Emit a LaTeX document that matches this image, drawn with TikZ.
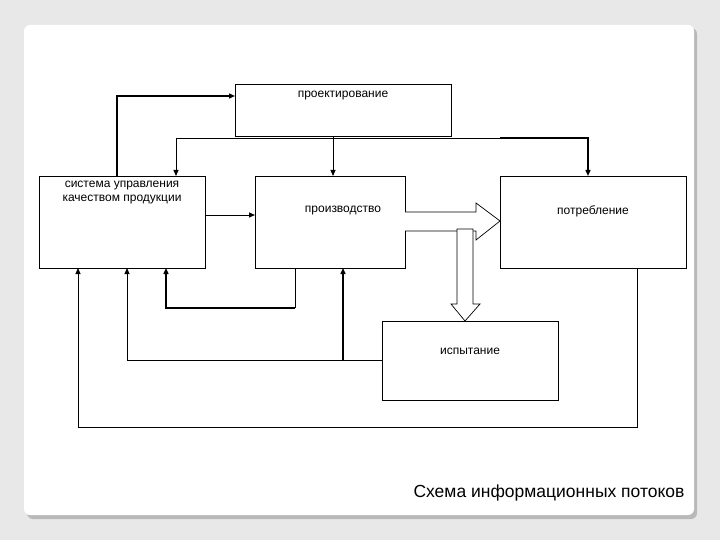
\documentclass[tikz,border=0pt]{standalone}
\usepackage{fontspec}
\setmainfont{Liberation Sans}
\usetikzlibrary{arrows.meta}
\begin{document}
\begin{tikzpicture}[x=1pt,y=-1pt,
  box/.style={draw,line width=0.8pt,inner sep=0pt},
  lbl/.style={font=\fontsize{12}{14}\selectfont,align=center},
  con/.style={line width=0.8pt,-{Triangle[length=6pt,width=5pt]}},
  tcon/.style={con,line width=1.4pt},
  blk/.style={draw,line width=0.7pt,fill=white}]
\fill[gray!18] (0,0) rectangle (720,540);
\fill[gray!55,rounded corners=6pt] (27,28) rectangle (697,519);
\fill[white,rounded corners=6pt] (24,25) rectangle (694,515);
\useasboundingbox (0,0) rectangle (720,540);
% boxes
\draw[box] (235,84) rectangle (451,136);
\node[lbl] (proj) at (343,96) {проектирование};
\draw[box] (39,176) rectangle (205,268);
\node[lbl] (sys) at (122,193) {система управления\\качеством продукции};
\draw[box] (255,176) rectangle (405,268);
\node[lbl] (prod) at (343,211) {производство};
\draw[box] (500,176) rectangle (686,268);
\node[lbl] (cons) at (593,211) {потребление};
\draw[box] (382,321) rectangle (558,400);
\node[lbl] (test) at (470,351) {испытание};
% connectors
\draw[tcon] (117,176) |- (235,96);
\draw[con] (333,136) -- (333,176);
\draw[con] (176,138) -- (176,176);
\draw[line width=0.8pt] (176,138) -- (500,138);
\draw[tcon] (500,138) -| (588,176);
\draw[con] (205,215) -- (255,215);
\draw[line width=0.8pt] (295,268) -- (295,308);
\draw[tcon] (295,308) -| (166,268);
\draw[con] (382,360) -| (127,268);
\draw[tcon] (343,360) -- (343,268);
\draw[con] (637,268) |- (78,427) -- (78,268);
% block arrows
\draw[blk] (405,212) -- (476,212) -- (476,203) -- (500,221) -- (476,240) -- (476,231) -- (405,231);
\draw[blk] (457,229) -- (473,229) -- (473,304) -- (480,304) -- (465,321) -- (451,304) -- (457,304) -- cycle;
\node[font=\fontsize{17.5}{20}\selectfont,anchor=east] (cap) at (688,493) {Схема информационных потоков};
\end{tikzpicture}
\end{document}
